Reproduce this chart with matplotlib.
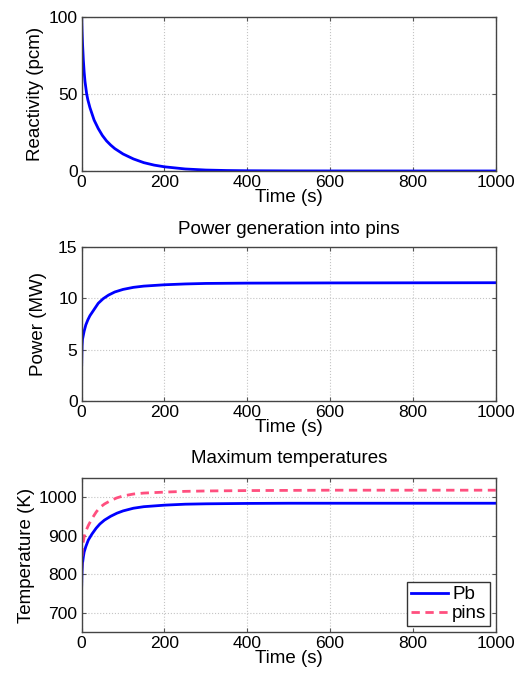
import matplotlib
matplotlib.use("Agg")
import matplotlib.pyplot as plt

# values
t_react = [0, 1, 2, 4, 6, 8, 10, 12, 15, 20, 25, 30, 40, 50, 60, 70, 80, 100,
           125, 150, 175, 200, 250, 300, 350, 400, 500, 600, 800, 1000]
reactivity = [100, 90, 83, 72, 64, 58, 54, 50, 46, 41, 37, 33, 27.5, 23, 19.5,
              16.8, 14.5, 11, 7.8, 5.4, 3.8, 2.7, 1.3, 0.6, 0.3, 0.15, 0.05,
              0.02, 0.0, 0.0]

t_power = [0, 0.5, 1, 2, 4, 6, 10, 15, 20, 30, 40, 52, 65, 80, 100, 125, 150,
           200, 250, 300, 400, 500, 600, 800, 1000]
power = [3.5, 4.6, 5.4, 6.0, 6.4, 6.8, 7.4, 7.9, 8.3, 8.9, 9.5, 9.95, 10.3,
         10.6, 10.85, 11.05, 11.17, 11.3, 11.38, 11.43, 11.46, 11.47, 11.48,
         11.49, 11.5]

t_temp = [0, 0.5, 1, 2, 4, 6, 10, 16, 25, 35, 44, 55, 70, 85, 100, 125, 150,
          200, 250, 300, 400, 500, 600, 800, 1000]
temp_pb = [770, 795, 810, 828, 845, 858, 872, 889, 905, 920, 931, 941, 951,
           959, 965, 972, 976, 980, 982.5, 983.5, 984.5, 985, 985, 985, 985]
temp_pins = [810, 835, 850, 868, 885, 898, 912, 927, 945, 962, 974, 983, 992,
             999, 1004, 1009, 1011.5, 1014, 1016, 1017, 1018, 1018.5, 1019,
             1019, 1019]

plt.rcParams['font.family'] = ['Liberation Sans', 'DejaVu Sans']
fs = 13.5
tick_fs = 12.6

fig = plt.figure(figsize=(5.15, 6.75), dpi=100)
left, width = 0.1586, 0.804
ax1 = fig.add_axes([left, 0.7467, width, 0.2286])
ax2 = fig.add_axes([left, 0.4059, width, 0.2286])
ax3 = fig.add_axes([left, 0.0641, width, 0.2273])


def style(ax):
    ax.set_xlim(0, 1000)
    ax.set_xticks([0, 200, 400, 600, 800, 1000])
    ax.grid(True, linestyle=':', color='#c4c4c4', linewidth=0.8)
    ax.tick_params(direction='in', top=True, right=True, length=3,
                   labelsize=tick_fs, pad=3, color='#555555')
    for s in ax.spines.values():
        s.set_color('#444444')
        s.set_linewidth(1.0)
    ax.set_xlabel('Time (s)', fontsize=fs, labelpad=-1)


ax1.plot(t_react, reactivity, color='#0000ff', linewidth=2)
ax1.set_ylim(0, 100)
ax1.set_yticks([0, 50, 100])
ax1.set_ylabel('Reactivity (pcm)', fontsize=fs, labelpad=3)
style(ax1)

ax2.plot(t_power, power, color='#0000ff', linewidth=2)
ax2.set_ylim(0, 15)
ax2.set_yticks([0, 5, 10, 15])
ax2.set_ylabel('Power (MW)', fontsize=fs, labelpad=8)
ax2.set_title('Power generation into pins', fontsize=fs, pad=9)
style(ax2)

ax3.plot(t_temp, temp_pb, color='#0000ff', linewidth=2, label='Pb')
ax3.plot(t_temp, temp_pins, color='#ff4f7f', linewidth=2, linestyle='--',
         dashes=(3, 2), label='pins')
ax3.set_ylim(650, 1050)
ax3.set_yticks([700, 800, 900, 1000])
ax3.set_ylabel('Temperature (K)', fontsize=fs, labelpad=3)
ax3.set_title('Maximum temperatures', fontsize=fs, pad=11)
style(ax3)
leg = ax3.legend(loc='lower right', fontsize=fs, fancybox=False,
                 framealpha=1, edgecolor='#333333', handlelength=2.0,
                 borderaxespad=0.3, borderpad=0.2, handletextpad=0.2,
                 labelspacing=0.1)
leg.get_frame().set_linewidth(1.0)

fig.savefig('out.png', dpi=100)
